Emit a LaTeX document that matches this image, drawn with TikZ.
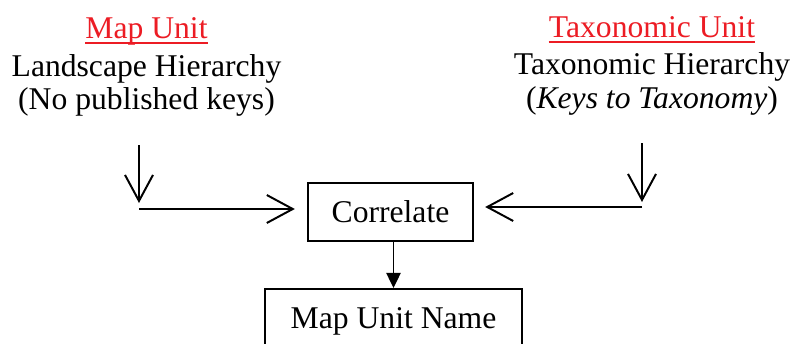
\documentclass[tikz,border=0pt]{standalone}
\usepackage{fontspec}
\setmainfont{Liberation Serif}
\usepackage{xcolor}
\usepackage{tikz}
\usetikzlibrary{arrows.meta, positioning}
\definecolor{unitred}{RGB}{236,28,36}
\tikzset{
    txt/.style={anchor=base, inner sep=0pt},
    unitlbl/.style={txt, text=unitred},
    boxnode/.style={draw, line width=1.6pt, align=center},
    feed/.style={line width=1.4pt, -{Straight Barb[length=6.5mm, width=7mm, line width=1.4pt]}},
    down/.style={line width=1.2pt, -{Triangle[length=3.8mm, width=3.6mm]}}
}

\begin{document}
\begin{tikzpicture}[x=0.025cm, y=0.025cm, font=\fontsize{22.5pt}{27pt}\selectfont]
            \useasboundingbox (0,0) rectangle (797,-343);
            \clip (0,0) rectangle (797,-343);
            \node[unitlbl] (mapunit) at (146.5,-38) {Map Unit};
            \node[txt] (maphier) at (146.5,-76) {Landscape Hierarchy};
            \node[txt] (mapkeys) at (146.5,-109) {(No published keys)};
            \node[unitlbl] (taxunit) at (652,-37) {Taxonomic Unit};
            \node[txt] (taxhier) at (652,-74) {Taxonomic Hierarchy};
            \node[txt] (taxkeys) at (652,-108) {(\textit{Keys to Taxonomy})};
            \draw[unitred, line width=1.2pt] ([yshift=-0.13cm]mapunit.base west) -- ([yshift=-0.13cm]mapunit.base east);
            \draw[unitred, line width=1.2pt] ([yshift=-0.13cm]taxunit.base west) -- ([yshift=-0.13cm]taxunit.base east);
            \node[boxnode, minimum width=4.125cm, minimum height=1.45cm] (corr) at (390.5,-212) {Correlate};
            \node[boxnode, anchor=north, minimum width=6.425cm, minimum height=1.63cm] (mun) at (393.5,-288) {Map Unit Name};
            \coordinate (maptop) at (139,-145);
            \coordinate (mapturn) at (139,-209);
            \coordinate (taxtop) at (642,-143);
            \coordinate (taxturn) at (642,-207);
            \draw[feed, shorten >=0.15cm] (maptop) -- (mapturn);
            \draw[feed, shorten >=0.3cm] (mapturn) -- (mapturn -| corr.west);
            \draw[feed, shorten >=0.125cm] (taxtop) -- (taxturn);
            \draw[feed, shorten >=0.275cm] (taxturn) -- (taxturn -| corr.east);
            \draw[down] (corr.south -| mun.north) -- (mun.north);
        \end{tikzpicture}
\end{document}
